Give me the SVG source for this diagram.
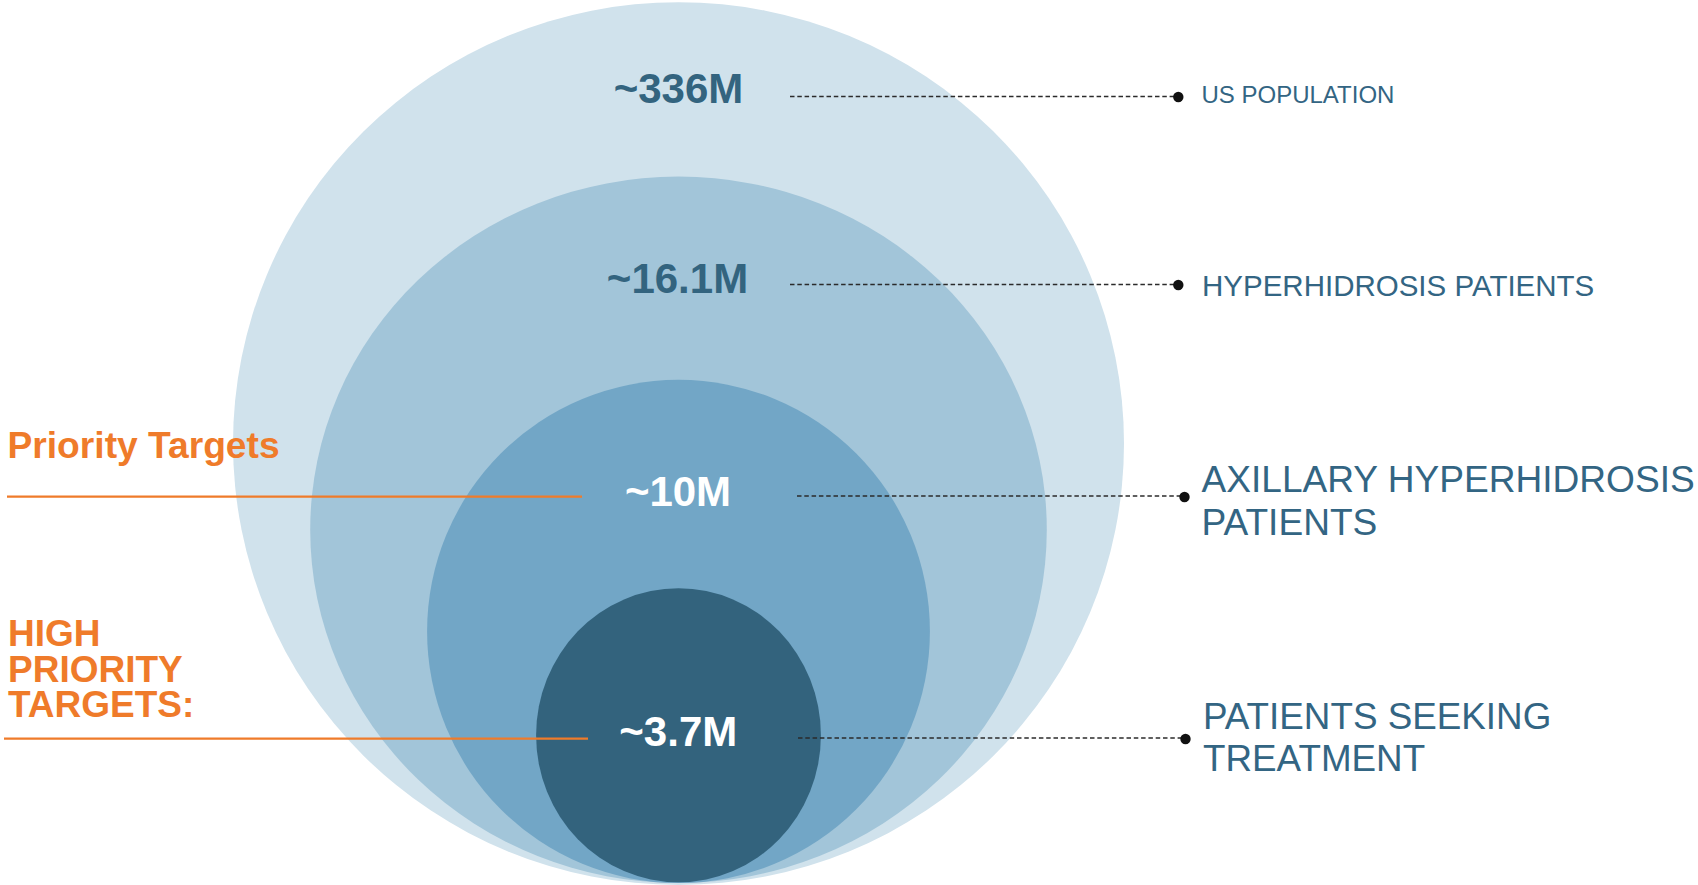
<svg xmlns="http://www.w3.org/2000/svg" width="1698" height="885" viewBox="0 0 1698 885">
  <style>
    .num { font-family: "Liberation Sans", Arial, sans-serif; font-weight: bold; font-size: 42px; text-anchor: middle; }
    .num-dark { fill: #33647F; }
    .num-light { fill: #FFFFFF; }
    .label { font-family: "Liberation Sans", Arial, sans-serif; fill: #336583; }
    .target { font-family: "Liberation Sans", Arial, sans-serif; font-weight: bold; fill: #EF7B2A; }
    .leader { stroke: #2B2B2B; stroke-width: 1.6; stroke-dasharray: 4.5 2.8; fill: none; }
    .bracket { stroke: #EF7B2A; stroke-width: 2.2; fill: none; }
    .dot { fill: #111111; }
  </style>

  <rect width="1698" height="885" fill="#FFFFFF"/>

  <!-- Nested population rings -->
  <g id="ring-us-population">
    <ellipse cx="678.5" cy="443.6" rx="445.5" ry="441.4" fill="#D0E2EC"/>
    <text class="num num-dark" x="678.5" y="103">~336M</text>
  </g>
  <g id="ring-hyperhidrosis">
    <ellipse cx="678.5" cy="529.8" rx="368.3" ry="353.2" fill="#A2C5D9"/>
    <text class="num num-dark" x="677.5" y="293">~16.1M</text>
  </g>
  <g id="ring-axillary">
    <ellipse cx="678.5" cy="631.4" rx="251.4" ry="251.6" fill="#72A6C6"/>
    <text class="num num-light" x="678" y="505.5">~10M</text>
  </g>
  <g id="ring-seeking-treatment">
    <ellipse cx="678.5" cy="735.3" rx="142.4" ry="147" fill="#33637D"/>
    <text class="num num-light" x="678.3" y="746">~3.7M</text>
  </g>

  <!-- Leader lines to the category labels -->
  <g id="connectors">
    <line class="leader" x1="790" y1="96.5" x2="1176" y2="96.5"/>
    <circle class="dot" cx="1178.3" cy="97" r="5.2"/>
    <line class="leader" x1="790" y1="284.5" x2="1176" y2="284.5"/>
    <circle class="dot" cx="1178.3" cy="285" r="5.2"/>
    <line class="leader" x1="797" y1="496" x2="1182" y2="496"/>
    <circle class="dot" cx="1184.5" cy="497" r="5.2"/>
    <line class="leader" x1="798" y1="738" x2="1183" y2="738"/>
    <circle class="dot" cx="1185.5" cy="739" r="5.2"/>

    <line class="bracket" x1="7" y1="496.7" x2="582" y2="496.7"/>
    <line class="bracket" x1="4" y1="738.7" x2="588" y2="738.7"/>
  </g>

  <!-- Category labels -->
  <g id="label-us-population">
    <text class="label" x="1201.5" y="103.3" font-size="24">US POPULATION</text>
  </g>
  <g id="label-hyperhidrosis">
    <text class="label" x="1202" y="295.7" font-size="29.5">HYPERHIDROSIS PATIENTS</text>
  </g>
  <g id="label-axillary">
    <text class="label" x="1201.5" y="492.3" font-size="37.1">AXILLARY HYPERHIDROSIS</text>
    <text class="label" x="1201.5" y="535" font-size="37.1">PATIENTS</text>
  </g>
  <g id="label-seeking-treatment">
    <text class="label" x="1203" y="728.7" font-size="36.8">PATIENTS SEEKING</text>
    <text class="label" x="1203" y="771" font-size="36.8">TREATMENT</text>
  </g>

  <!-- Target tiers -->
  <g id="priority-targets">
    <text class="target" x="7.5" y="458.3" font-size="37.2">Priority Targets</text>
  </g>
  <g id="high-priority-targets">
    <text class="target" x="8" y="645.7" font-size="37">HIGH</text>
    <text class="target" x="8" y="682" font-size="37">PRIORITY</text>
    <text class="target" x="8" y="717.3" font-size="37">TARGETS:</text>
  </g>
</svg>
